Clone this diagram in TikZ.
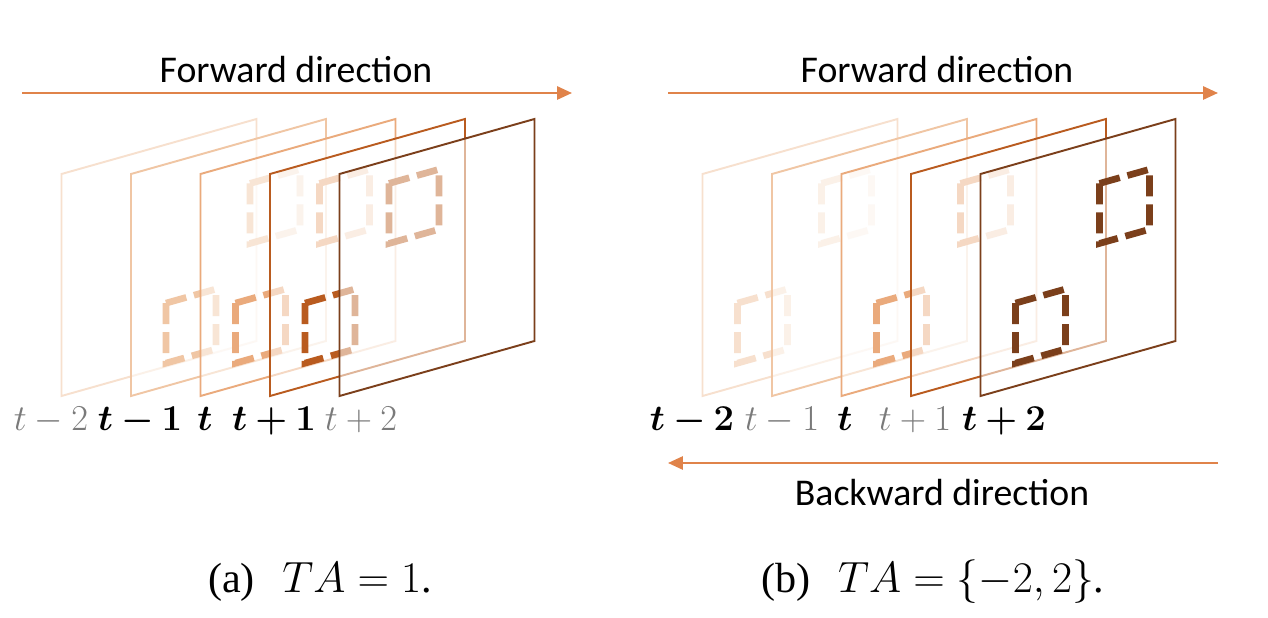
\documentclass[tikz,border=0pt]{standalone}
\usepackage[no-math]{fontspec}
\setmainfont{Liberation Serif}
\newfontfamily\dirfont{Carlito}
\usepackage{bm}
\usetikzlibrary{arrows.meta}

\definecolor{tmtwo}{HTML}{F7E0CE}
\definecolor{tmone}{HTML}{F0C6A4}
\definecolor{tnow}{HTML}{EAAA7C}
\definecolor{tpone}{HTML}{B95B1F}
\definecolor{tptwo}{HTML}{7B3F1B}
\definecolor{arrowor}{HTML}{E0834A}
\definecolor{lblgray}{HTML}{7A7A7A}

\tikzset{
  slice/.style={draw=#1, line width=1.1pt, fill=white, fill opacity=0.55},
  objbox/.style={draw=#1, line width=3.8pt, dash pattern=on 12pt off 4.5pt},
  dirarrow/.style={draw=arrowor, line width=1.3pt, -{Triangle[length=8.5pt,width=7.5pt]}},
  dirtext/.style={font=\dirfont\fontsize{21.5}{24}\selectfont, anchor=base},
  steplabel/.style={font=\fontsize{19.5}{22}\selectfont, anchor=base},
  captext/.style={font=\fontsize{24}{28}\selectfont, anchor=base},
}

% one frame: left edge, colour
\newcommand\drawslice[2]{%
  \filldraw[slice=#2] (#1,396) -- (#1,174) -- ({#1+195},119) -- ({#1+195},341) -- cycle;}
% one dashed box on a frame: left edge, u, v, colour
\newcommand\drawobj[4]{%
  \draw[objbox=#4] ({#1+#2},{336-#3-0.282*#2}) -- ({#1+#2+50},{336-#3-0.282*(#2+50)})
    -- ({#1+#2+50},{396-#3-0.282*(#2+50)}) -- ({#1+#2},{396-#3-0.282*#2}) -- cycle;}

\begin{document}
\begin{tikzpicture}[x=0.02cm, y=-0.02cm]
  \useasboundingbox (0,0) rectangle (1268,618);

  % (a) frames, boxes on t-1, t, t+1
  \foreach \i/\c in {0/tmtwo, 1/tmone, 2/tnow, 3/tpone, 4/tptwo} {
    \pgfmathsetmacro\L{61.5+69.5*\i}
    \drawslice{\L}{\c}
    \ifnum\i>0 \ifnum\i<4
      \drawobj{\L}{119}{119}{\c}
      \drawobj{\L}{35}{23}{\c}
    \fi\fi
  }
  % (b) frames, boxes on t-2, t, t+2
  \foreach \i/\c in {0/tmtwo, 1/tmone, 2/tnow, 3/tpone, 4/tptwo} {
    \pgfmathsetmacro\L{702.5+69.5*\i}
    \drawslice{\L}{\c}
    \ifodd\i\else
      \drawobj{\L}{119}{119}{\c}
      \drawobj{\L}{35}{23}{\c}
    \fi
  }

  % directions
  \node[dirtext] (fwdA) at (296,83) {Forward direction};
  \coordinate (fwdAs) at (22,93);
  \coordinate (fwdAe) at (572,93);
  \draw[dirarrow] (fwdAs) -- (fwdAe);
  \node[dirtext] (fwdB) at (937,83) {Forward direction};
  \coordinate (fwdBs) at (668,93);
  \coordinate (fwdBe) at (1218,93);
  \draw[dirarrow] (fwdBs) -- (fwdBe);
  \coordinate (bwdBs) at (1218,463);
  \coordinate (bwdBe) at (668,463);
  \draw[dirarrow] (bwdBs) -- (bwdBe);
  \node[dirtext] (bwdB) at (942,505) {Backward direction};

  % time steps
  \node[steplabel, text=lblgray] (aM2) at (51,430) {$t-2$};
  \node[steplabel] (aM1) at (140,430) {$\bm{t-1}$};
  \node[steplabel] (aT) at (205,430) {$\bm{t}$};
  \node[steplabel] (aP1) at (274,430) {$\bm{t+1}$};
  \node[steplabel, text=lblgray] (aP2) at (361,430) {$t+2$};
  \node[steplabel] (bM2) at (692,430) {$\bm{t-2}$};
  \node[steplabel, text=lblgray] (bM1) at (782,430) {$t-1$};
  \node[steplabel] (bT) at (845,430) {$\bm{t}$};
  \node[steplabel, text=lblgray] (bP1) at (915,430) {$t+1$};
  \node[steplabel] (bP2) at (1004,430) {$\bm{t+2}$};

  % captions
  \node[captext] (capA) at (320,592) {(a)\hspace{0.4em} $TA=1$.};
  \node[captext] (capB) at (933,592) {(b)\hspace{0.4em} $TA=\{-2,2\}$.};
\end{tikzpicture}
\end{document}
